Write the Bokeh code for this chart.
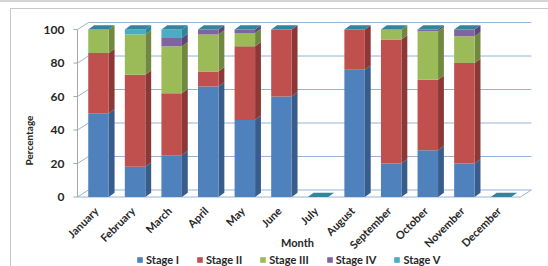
import numpy as np
from bokeh.plotting import figure
from bokeh.models import FixedTicker, Legend, LegendItem, Range1d
from bokeh.core.properties import value
from bokeh.embed import file_html
from bokeh.resources import INLINE

months = ["January", "February", "March", "April", "May", "June", "July",
          "August", "September", "October", "November", "December"]
stage_names = ["Stage I", "Stage II", "Stage III", "Stage IV", "Stage V"]
stage1 = [50, 18, 25, 66, 46, 60, 0, 76, 20, 28, 20, 0]
stage2 = [36, 55, 37, 9, 44, 40, 0, 24, 74, 42, 60, 0]
stage3 = [14, 24, 28, 22, 8, 0, 0, 0, 6, 29, 16, 0]
stage4 = [0, 0, 5, 3, 2, 0, 0, 0, 0, 1, 4, 0]
stage5 = [0, 3, 5, 0, 0, 0, 0, 0, 0, 0, 0, 0]
y_ticks = [0, 20, 40, 60, 80, 100]

front_colors = ["#4F81BD", "#C0504D", "#9BBB59", "#8064A2", "#4BACC6"]
side_colors = ["#385D8A", "#8C3836", "#71893F", "#5C4776", "#31859C"]
top_color = "#31859C"
GRID = "#95B3D7"
AXIS = "#A6A6A6"
FONT = "Lato"
TXT = "#262626"

series = [stage1, stage2, stage3, stage4, stage5]
xs = np.arange(len(months), dtype=float)
w = 0.56      # front face width (category units)
d = 0.16      # bar depth in x
dy = 2.6      # bar depth in y (data units)
wx0 = -0.574  # front wall x
wdx = 0.30    # wall depth in x
wdy = 4.2     # wall depth in y
xend = 11.83

p = figure(width=548, height=266, output_backend="svg", toolbar_location=None,
           x_range=Range1d(-0.874, 12.08), y_range=Range1d(-41.5, 109),
           min_border_top=14, min_border_right=8, min_border_left=66,
           min_border_bottom=0)
p.outline_line_color = None
p.background_fill_alpha = 0
p.border_fill_alpha = 0
p.styles = {
    "background": ("linear-gradient(#d4d4d4,#d4d4d4) 0 0/100% 2px no-repeat, "
                   "linear-gradient(#c8c8c8,#c8c8c8) 10px 8px/100% 1px no-repeat, "
                   "linear-gradient(#c8c8c8,#c8c8c8) 10px 8px/1px 100% no-repeat, "
                   "white"),
}

p.xgrid.visible = False
p.ygrid.visible = False
p.xaxis.visible = False
p.yaxis.ticker = FixedTicker(ticks=y_ticks)
ax = p.yaxis[0]
ax.axis_line_color = None
ax.major_tick_line_color = None
ax.minor_tick_line_color = None
ax.major_tick_out = 0
ax.major_tick_in = 0
ax.major_label_text_font = FONT
ax.major_label_text_font_style = "bold"
ax.major_label_text_color = TXT
ax.major_label_text_font_size = "12px"
ax.major_label_standoff = 2
ax.axis_label = "Percentage"
ax.axis_label_text_font = FONT
ax.axis_label_text_font_style = "bold"
ax.axis_label_text_color = TXT
ax.axis_label_text_font_size = "10px"
ax.axis_label_standoff = 6

# 3-D walls: back-wall gridlines, connectors, floor, front axis
gt = np.array(y_ticks, dtype=float)
p.segment(x0=[wx0 + wdx] * len(gt), y0=gt + wdy, x1=[xend] * len(gt), y1=gt + wdy,
          line_color=GRID, line_width=1)
p.segment(x0=[wx0] * len(gt), y0=gt, x1=[wx0 + wdx] * len(gt), y1=gt + wdy,
          line_color=GRID, line_width=1)
p.segment(x0=[wx0], y0=[0], x1=[xend - wdx], y1=[0], line_color=GRID, line_width=1)
p.segment(x0=[xend - wdx], y0=[0], x1=[xend], y1=[wdy], line_color=GRID, line_width=1)
p.segment(x0=[wx0], y0=[0], x1=[wx0], y1=[max(y_ticks)], line_color=AXIS, line_width=1)
p.segment(x0=[wx0 - 0.11] * len(gt), y0=gt, x1=[wx0] * len(gt), y1=gt,
          line_color=AXIS, line_width=1)

bottom = np.zeros(len(months))
items = []
for k, s in enumerate(series):
    vals = np.array(s, dtype=float)
    top = bottom + vals
    sx, sy = [], []
    for i in range(len(months)):
        if vals[i] > 0:
            xr = xs[i] + w / 2
            sx.append([xr, xr + d, xr + d, xr])
            sy.append([bottom[i], bottom[i] + dy, top[i] + dy, top[i]])
    if sx:
        p.patches(sx, sy, fill_color=side_colors[k], line_color=None)
    r = p.vbar(x=xs, bottom=bottom, top=top, width=w, fill_color=front_colors[k],
               line_color=None)
    items.append(LegendItem(label=stage_names[k], renderers=[r]))
    bottom = top

tx, ty = [], []
for i in range(len(months)):
    T = bottom[i]
    tx.append([xs[i] - w / 2, xs[i] + w / 2, xs[i] + w / 2 + d, xs[i] - w / 2 + d])
    ty.append([T, T, T + dy, T + dy])
p.patches(tx, ty, fill_color=top_color, line_color=None)

# category labels (rotated) and axis title
p.text(x=xs - 0.06, y=[-7.0] * len(months), text=months, angle=np.pi / 4,
       text_align="right", text_baseline="middle", text_font=value(FONT),
       text_font_size="11px", text_font_style="bold", text_color=TXT)
p.text(x=[5.44], y=[-27.2], text=["Month"], text_align="center",
       text_baseline="middle", text_font=value(FONT), text_font_size="11px",
       text_font_style="bold", text_color=TXT)

legend = Legend(items=items, orientation="horizontal", location=(70, 0),
                label_text_font=FONT, label_text_font_size="11px",
                label_text_font_style="bold", label_text_color=TXT,
                glyph_width=7, glyph_height=7, label_height=12,
                label_standoff=3, spacing=17,
                padding=2, margin=0, border_line_color=None,
                background_fill_alpha=0)
p.add_layout(legend, "center")

open("out.html", "w").write(file_html(p, INLINE))
